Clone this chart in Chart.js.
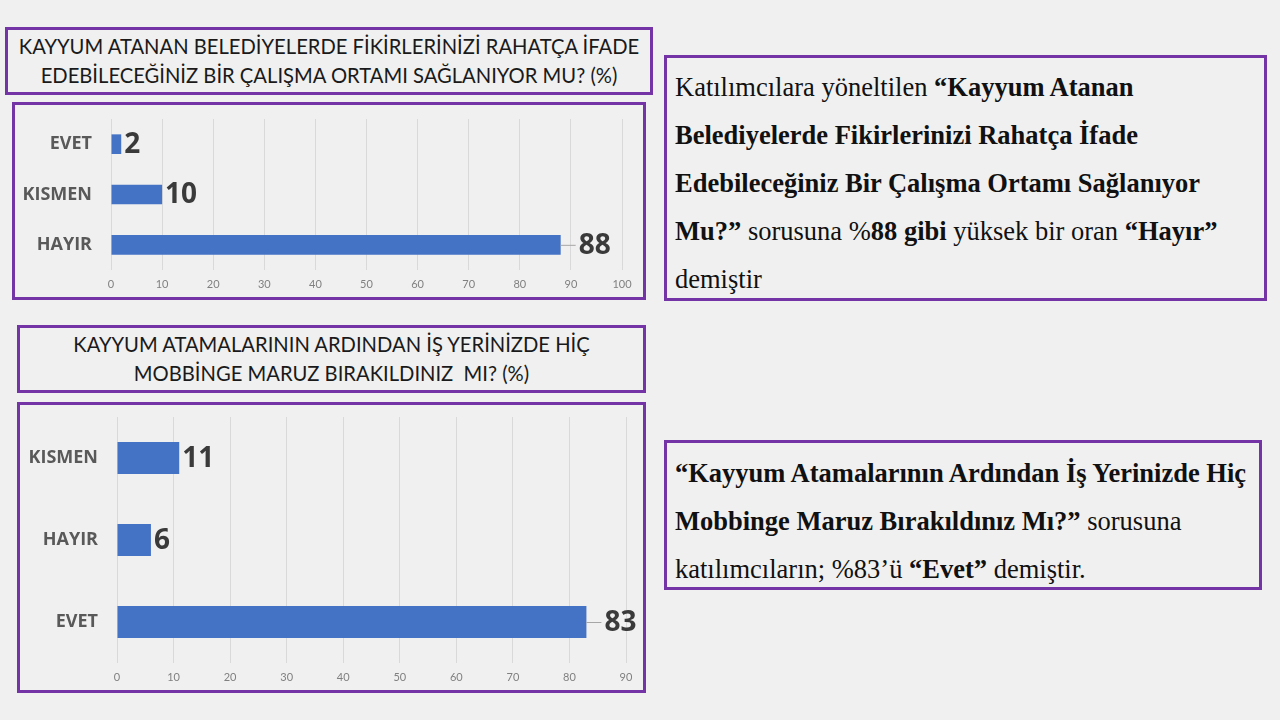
<!DOCTYPE html>
<html lang="tr">
<head>
<meta charset="utf-8">
<title>Kayyum anketi</title>
<script src="https://cdn.jsdelivr.net/npm/chart.js@4"></script>
<style>
    html, body { margin: 0; padding: 0; }
    body {
        width: 1280px;
        height: 720px;
        background: #f0f0f0;
        position: relative;
        overflow: hidden;
        font-family: Lato, "Open Sans", sans-serif;
    }
    .box {
        position: absolute;
        box-sizing: border-box;
        border: 3px solid #7434a6;
        background: #f0f0f0;
    }
    .title {
        display: flex;
        align-items: center;
        justify-content: center;
        text-align: center;
        font-size: 20.2px;
        line-height: 29px;
        color: #1a1a1a;
        white-space: nowrap;
    }
    .note {
        font-family: "Liberation Serif", "Times New Roman", serif;
        font-size: 26.5px;
        line-height: 48px;
        color: #111;
        padding-left: 8px;
        white-space: nowrap;
    }
    canvas { position: absolute; }
</style>
</head>
<body>

<div class="box title" style="left:5px;top:27px;width:648px;height:68px;">
    KAYYUM ATANAN BELEDİYELERDE FİKİRLERİNİZİ RAHATÇA İFADE<br>EDEBİLECEĞİNİZ BİR ÇALIŞMA ORTAMI SAĞLANIYOR MU? (%)
</div>
<div class="box" style="left:12px;top:102px;width:634px;height:198px;"></div>
<canvas id="chartOrtam" style="left:15px;top:105px;width:628px;height:192px;"></canvas>

<div class="box title" style="left:17px;top:325px;width:629px;height:68px;">
    KAYYUM ATAMALARININ ARDINDAN İŞ YERİNİZDE HİÇ<br>MOBBİNGE MARUZ BIRAKILDINIZ&nbsp; MI? (%)
</div>
<div class="box" style="left:17px;top:402px;width:629px;height:291px;"></div>
<canvas id="chartMobbing" style="left:20px;top:405px;width:623px;height:285px;"></canvas>

<div class="box note" style="left:664px;top:55px;width:603px;height:246px;padding-top:5px;">
    Katılımcılara yöneltilen <b>“Kayyum Atanan</b><br>
    <b>Belediyelerde Fikirlerinizi Rahatça İfade</b><br>
    <b>Edebileceğiniz Bir Çalışma Ortamı Sağlanıyor</b><br>
    <b>Mu?”</b> sorusuna %<b>88 gibi</b> yüksek bir oran <b>“Hayır”</b><br>
    demiştir
</div>

<div class="box note" style="left:664px;top:440px;width:598px;height:150px;padding-top:6px;">
    <b>“Kayyum Atamalarının Ardından İş Yerinizde Hiç</b><br>
    <b>Mobbinge Maruz Bırakıldınız Mı?”</b> sorusuna<br>
    katılımcıların; %83’ü <b>“Evet”</b> demiştir.
</div>

<script>
// --- data ---
const ortamLabels = ['EVET', 'KISMEN', 'HAYIR'];
const ortamValues = [2, 10, 88];
const ortamMax = 100;

const mobbingLabels = ['KISMEN', 'HAYIR', 'EVET'];
const mobbingValues = [11, 6, 83];
const mobbingMax = 90;

const tickStep = 10;

// value labels next to bars, leader line on the longest one
const valueLabels = {
    id: 'valueLabels',
    afterDatasetsDraw(chart) {
        const ctx = chart.ctx;
        const values = chart.data.datasets[0].data;
        const maxVal = Math.max(...values);
        ctx.save();
        ctx.font = 'bold 28px "Open Sans", Lato, sans-serif';
        ctx.fillStyle = '#3a3a3a';
        ctx.textBaseline = 'middle';
        ctx.textAlign = 'left';
        chart.getDatasetMeta(0).data.forEach((bar, i) => {
            let x = bar.x + 3;
            if (values[i] === maxVal) {
                ctx.strokeStyle = '#a6a6a6';
                ctx.lineWidth = 1;
                ctx.beginPath();
                ctx.moveTo(bar.x, bar.y + 0.5);
                ctx.lineTo(bar.x + 15, bar.y + 0.5);
                ctx.stroke();
                x = bar.x + 18;
            }
            ctx.fillText(String(values[i]), x, bar.y + 1);
        });
        ctx.restore();
    }
};

function makeChart(id, labels, values, max, pad, yWidth) {
    const ctx = document.getElementById(id).getContext('2d');
    return new Chart(ctx, {
        type: 'bar',
        data: {
            labels: labels,
            datasets: [{
                data: values,
                backgroundColor: '#4472c4',
                borderWidth: 0,
                categoryPercentage: 1,
                barPercentage: 0.39
            }]
        },
        options: {
            indexAxis: 'y',
            responsive: false,
            animation: false,
            layout: { padding: pad },
            plugins: {
                legend: { display: false },
                tooltip: { enabled: false }
            },
            scales: {
                x: {
                    min: 0,
                    max: max,
                    ticks: {
                        stepSize: tickStep,
                        padding: 8,
                        color: '#808080',
                        font: { family: 'Lato', size: 11 }
                    },
                    grid: { color: '#d9d9d9', drawTicks: false },
                    border: { display: false },
                    afterFit: s => { s.height = 27; }
                },
                y: {
                    ticks: {
                        padding: 19,
                        color: '#595959',
                        font: { family: '"Open Sans"', size: 18, weight: 'bold' }
                    },
                    grid: { display: false, drawTicks: false },
                    border: { display: false },
                    // fixed width, and no extra label padding above/below the plot
                    afterFit: s => {
                        s.width = yWidth;
                        s.paddingTop = 0;
                        s.paddingBottom = 0;
                    }
                }
            }
        },
        plugins: [valueLabels]
    });
}

function setupCanvas(id) {
    const c = document.getElementById(id);
    c.width = parseInt(c.style.width);
    c.height = parseInt(c.style.height);
}

document.addEventListener('DOMContentLoaded', () => {
    setupCanvas('chartOrtam');
    setupCanvas('chartMobbing');
    makeChart('chartOrtam', ortamLabels, ortamValues, ortamMax,
        { top: 14, right: 21, left: 0, bottom: 0 }, 96);
    makeChart('chartMobbing', mobbingLabels, mobbingValues, mobbingMax,
        { top: 12, right: 17, left: 0, bottom: 0 }, 97);
});
</script>
</body>
</html>
